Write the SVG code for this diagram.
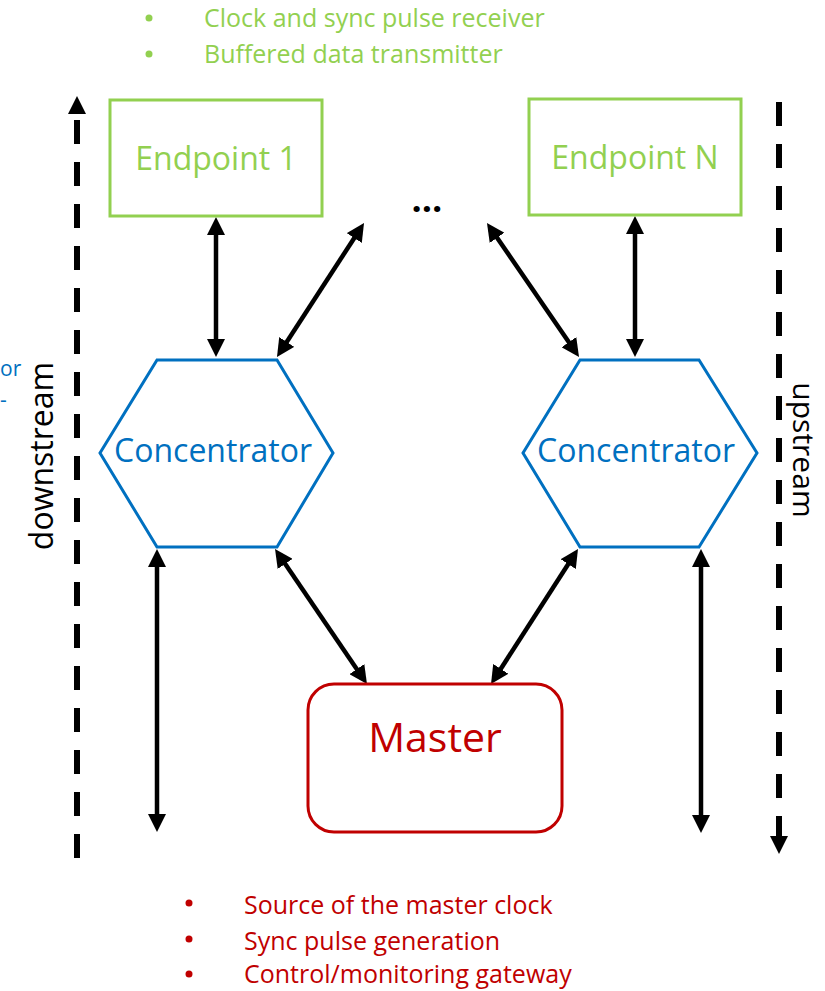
<svg xmlns="http://www.w3.org/2000/svg" width="825" height="991" viewBox="0 0 825 991">
  <style>
    text { font-family: "Open Sans", "Noto Sans", "Liberation Sans", sans-serif; }
    .ep { fill: #fff; stroke: #92D050; stroke-width: 3; }
    .ep-t { fill: #92D050; font-size: 32px; text-anchor: middle; }
    .hex { fill: #fff; stroke: #0070C0; stroke-width: 3; stroke-linejoin: miter; }
    .hex-t { fill: #0070C0; font-size: 32px; text-anchor: middle; }
    .master { fill: #fff; stroke: #C00000; stroke-width: 3; }
    .master-t { fill: #C00000; font-size: 41px; text-anchor: middle; }
    .green { fill: #92D050; font-size: 25px; }
    .red { fill: #C00000; font-size: 25px; }
    .link { stroke: #000; stroke-width: 4.5; fill: none; marker-start: url(#head); marker-end: url(#head); }
    .dash { stroke: #000; stroke-width: 6; stroke-dasharray: 24 18; fill: none; }
    .axis { fill: #000; font-size: 32px; text-anchor: middle; }
  </style>
  <defs>
    <marker id="head" viewBox="0 0 18 18" refX="4" refY="9" markerWidth="18" markerHeight="18" markerUnits="userSpaceOnUse" orient="auto-start-reverse">
      <path d="M0,0 L18,9 L0,18 z" fill="#000"/>
    </marker>
  </defs>

  <!-- endpoint role notes -->
  <g id="endpoint-notes">
    <circle cx="149" cy="18" r="3.5" fill="#92D050"/>
    <text class="green" x="204" y="27">Clock and sync pulse receiver</text>
    <circle cx="149" cy="54" r="3.5" fill="#92D050"/>
    <text class="green" x="204" y="63">Buffered data transmitter</text>
  </g>

  <!-- partly visible side label -->
  <g id="side-label">
    <text x="0" y="376" font-size="21" fill="#0070C0">or</text>
    <text x="0" y="407" font-size="21" fill="#0070C0">-</text>
  </g>

  <!-- direction axes -->
  <g id="downstream">
    <polygon points="77,96 68,114 86,114" fill="#000"/>
    <line class="dash" x1="77" y1="120" x2="77" y2="860"/>
    <text class="axis" transform="translate(53,456) rotate(-90)">downstream</text>
  </g>
  <g id="upstream">
    <line class="dash" x1="779" y1="102" x2="779" y2="840"/>
    <polygon points="770,836 788,836 779,854" fill="#000"/>
    <text class="axis" font-size="30" transform="translate(793,450) rotate(90)" style="font-size:30px">upstream</text>
  </g>

  <!-- connectors -->
  <g id="connectors">
    <line class="link" x1="216" y1="231" x2="216" y2="343"/>
    <line class="link" x1="284.6" y1="345.3" x2="356.4" y2="234.7"/>
    <line class="link" x1="494.9" y1="234.5" x2="571.1" y2="345.5"/>
    <line class="link" x1="635" y1="230" x2="635" y2="343"/>
    <line class="link" x1="157" y1="563" x2="157" y2="818"/>
    <line class="link" x1="282.9" y1="560.6" x2="359.1" y2="672.4"/>
    <line class="link" x1="570.4" y1="560.8" x2="498.6" y2="672.2"/>
    <line class="link" x1="701" y1="563" x2="701" y2="819"/>
  </g>

  <!-- endpoints -->
  <g id="endpoint-1">
    <rect class="ep" x="110" y="100" width="212" height="116"/>
    <text class="ep-t" x="216" y="170">Endpoint 1</text>
  </g>
  <g id="ellipsis">
    <text x="427" y="212" font-size="36" font-weight="bold" text-anchor="middle" fill="#000">…</text>
  </g>
  <g id="endpoint-n">
    <rect class="ep" x="529" y="99" width="212" height="116"/>
    <text class="ep-t" x="635" y="169">Endpoint N</text>
  </g>

  <!-- concentrators -->
  <g id="concentrator-left">
    <polygon class="hex" points="157,360 277,360 333,453 277,547 157,547 100,453"/>
    <text class="hex-t" x="213" y="462">Concentrator</text>
  </g>
  <g id="concentrator-right">
    <polygon class="hex" points="580,360 699,360 757,453 699,547 580,547 523,453"/>
    <text class="hex-t" x="636" y="462">Concentrator</text>
  </g>

  <!-- master -->
  <g id="master">
    <rect class="master" x="308" y="684" width="254" height="148" rx="26" ry="26"/>
    <text class="master-t" x="435" y="752">Master</text>
  </g>

  <!-- master role notes -->
  <g id="master-notes">
    <circle cx="189" cy="903" r="3.5" fill="#C00000"/>
    <text class="red" x="244" y="914">Source of the master clock</text>
    <circle cx="189" cy="939" r="3.5" fill="#C00000"/>
    <text class="red" x="244" y="950">Sync pulse generation</text>
    <circle cx="189" cy="974" r="3.5" fill="#C00000"/>
    <text class="red" x="244" y="983">Control/monitoring gateway</text>
  </g>
</svg>
